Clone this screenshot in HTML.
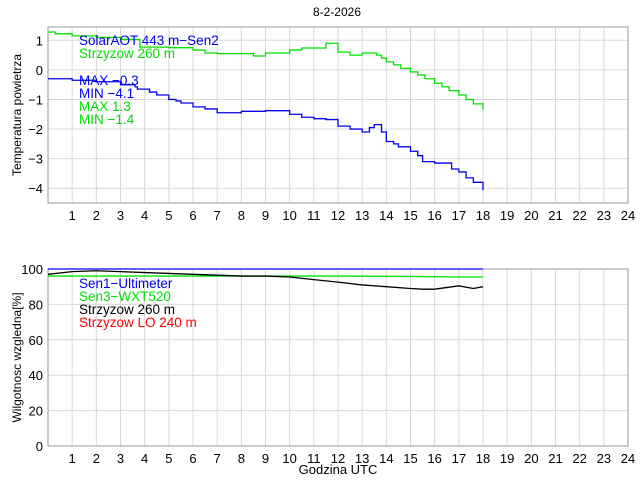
<!DOCTYPE html>
<html><head><meta charset="utf-8"><style>
body{margin:0;background:#fff;}
svg text{font-family:"Liberation Sans",sans-serif;}
</style></head><body>
<svg id="c" width="640" height="480" xmlns="http://www.w3.org/2000/svg">
<text x="337" y="16" font-size="12" text-anchor="middle">8-2-2026</text>
<g id="top"></g><g id="bot"></g>
</svg>
<script>
const hours=[1,2,3,4,5,6,7,8,9,10,11,12,13,14,15,16,17,18,19,20,21,22,23,24];
const tempTicks=[1,0,-1,-2,-3,-4];
const humTicks=[100,80,60,40,20,0];
const tBlueX=[0,1,2,3,3.6,3.7,4.2,4.5,5,5.3,5.5,6,6.5,7,8,9,10,10.5,11,11.5,12,12.5,13,13.3,13.5,13.8,14,14.3,14.5,15,15.3,15.5,16,16.7,17,17.3,17.6,18];
const tBlueY=[-0.3,-0.35,-0.4,-0.5,-0.57,-0.65,-0.75,-0.85,-1.0,-1.05,-1.12,-1.25,-1.32,-1.45,-1.4,-1.38,-1.5,-1.6,-1.65,-1.68,-1.9,-2.0,-2.1,-1.95,-1.85,-2.1,-2.42,-2.5,-2.6,-2.75,-2.9,-3.1,-3.15,-3.35,-3.45,-3.65,-3.8,-4.07];
const tGreenX=[0,0.3,1,2,3,3.8,4.5,5,6,6.5,7,8,8.5,9,10,10.5,11.5,12,12.5,13,13.6,13.8,14,14.3,14.6,15,15.3,15.6,16,16.3,16.6,17,17.3,17.6,18];
const tGreenY=[1.28,1.22,1.15,1.1,1.03,0.77,0.77,0.75,0.67,0.57,0.55,0.55,0.47,0.57,0.67,0.74,0.9,0.6,0.5,0.57,0.5,0.4,0.27,0.17,0.05,-0.07,-0.17,-0.3,-0.45,-0.57,-0.7,-0.85,-1.0,-1.15,-1.35];
const hBlackX=[0,1,2,3,4,5,6,7,8,9,10,11,12,13,14,15,15.5,16,17,17.6,18];
const hBlackY=[97,98.5,99,98.5,98,97.5,97,96.5,96,96,95.5,94,92.6,91,90,89,88.6,88.6,90.5,89,90];
const hGreenX=[0,3,6,9,12,15,17,18];
const hGreenY=[96,96,96,96,96,95.8,95.5,95.5];
const hBlueX=[0,18];
const hBlueY=[100,100];
const NS="http://www.w3.org/2000/svg";
function mk(p,t,a){const e=document.createElementNS(NS,t);for(const k in a)e.setAttribute(k,a[k]);p.appendChild(e);return e;}
const L=48,R=628;
const xs=h=>L+(R-L)*h/24;
function panel(g,top,bot,ymin,ymax,ticks,ylab,name){
  const ys=v=>bot-(v-ymin)/(ymax-ymin)*(bot-top);
  hours.forEach(h=>{const l=mk(g,'line',{x1:xs(h),x2:xs(h),y1:top,y2:bot,stroke:'#d8d8d8'});
    
    
    const t=mk(g,'text',{x:xs(h),y:bot+17,'font-size':13,'text-anchor':'middle'});t.textContent=h;
    
    });
  ticks.forEach(v=>{const l=mk(g,'line',{x1:L,x2:R,y1:ys(v),y2:ys(v),stroke:'#d8d8d8'});
    
    
    const t=mk(g,'text',{x:L-5,y:ys(v)+5,'font-size':13,'text-anchor':'end'});t.textContent=String(v).replace('-','\u2212');
    
    });
  const f=mk(g,'rect',{x:L,y:top,width:R-L,height:bot-top,fill:'none',stroke:'#999'});
  
  
  const yl=mk(g,'text',{x:0,y:0,'font-size':12,'text-anchor':'middle',transform:`translate(${L-27},${(top+bot)/2}) rotate(-90)`});yl.textContent=ylab;
  
  
  return ys;
}
function series(g,X,Y,ys,col,nm,step){
  let d='';X.forEach((x,i)=>{if(i==0)d='M'+xs(x)+' '+ys(Y[i]);else if(step)d+=' H'+xs(x)+' V'+ys(Y[i]);else d+=' L'+xs(x)+' '+ys(Y[i]);});
  const p=mk(g,'path',{d:d,fill:'none',stroke:col,'stroke-width':1.3});
  
  
}
function txt(g,x,y,s,col,nm){const t=mk(g,'text',{x:x,y:y,'font-size':13.5,fill:col});t.textContent=s;
  
  }
const gt=document.getElementById('top'),gb=document.getElementById('bot');
const ys1=panel(gt,27,203,-4.5,1.45,tempTicks,'Temperatura powietrza','temp-panel');
series(gt,tGreenX,tGreenY,ys1,'#00e000','temp-green-line',true);
series(gt,tBlueX,tBlueY,ys1,'#0000ee','temp-blue-line',true);
txt(gt,79,45,'SolarAOT 443 m\u2212Sen2','#0000ee','legend-solaraot');
txt(gt,79,58,'Strzyzow 260 m','#00e000','legend-strzyzow');
txt(gt,79,85,'MAX \u22120.3','#0000ee','blue-max');
txt(gt,79,98,'MIN \u22124.1','#0000ee','blue-min');
txt(gt,79,111,'MAX 1.3','#00e000','green-max');
txt(gt,79,124,'MIN \u22121.4','#00e000','green-min');
const ys2=panel(gb,269,446,0,100,humTicks,'Wilgotnosc wzgledna[%]','hum-panel');
series(gb,hBlueX,hBlueY,ys2,'#0000ee','hum-blue-line',false);
series(gb,hGreenX,hGreenY,ys2,'#00e000','hum-green-line',false);
series(gb,hBlackX,hBlackY,ys2,'#000','hum-black-line',false);
txt(gb,79,288,'Sen1\u2212Ultimeter','#0000ee','legend-sen1');
txt(gb,79,301,'Sen3\u2212WXT520','#00e000','legend-sen3');
txt(gb,79,314,'Strzyzow 260 m','#000','legend-strzyzow-hum');
txt(gb,79,327,'Strzyzow LO 240 m','#ff0000','legend-strzyzow-lo');
const xl=mk(gb,'text',{x:338,y:474,'font-size':13,'text-anchor':'middle'});xl.textContent='Godzina UTC';


</script>
</body></html>
